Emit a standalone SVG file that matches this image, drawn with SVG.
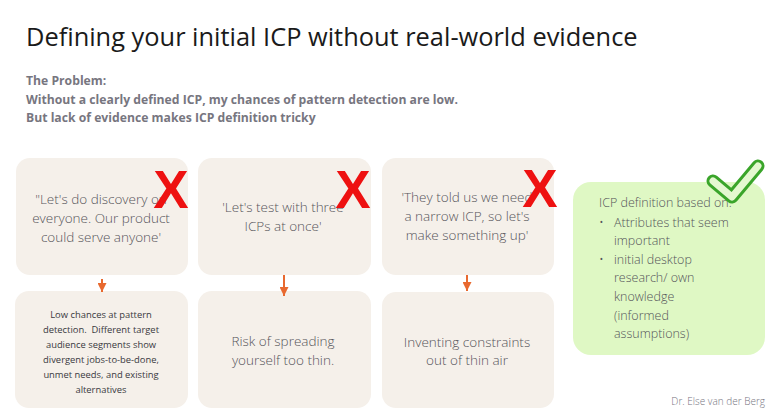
<svg xmlns="http://www.w3.org/2000/svg" width="780" height="418" viewBox="0 0 780 418">
<defs>
<marker id="ah" viewBox="0 0 10 10" refX="10" refY="5" markerWidth="9" markerHeight="9" markerUnits="userSpaceOnUse" orient="auto">
<path d="M0,0 L10,5 L0,10 Z" fill="#e8692f"/>
</marker>
<style>
.box{fill:#f5f0ea}
.green{fill:#dff8c4}
.t{font-family:"Open Sans","Liberation Sans",sans-serif;fill:#55555a;font-weight:300;text-anchor:middle}
.q{font-size:13.5px}
.s{font-size:9.4px;font-weight:400;fill:#3a3a3f;white-space:pre}
.x{font-family:"Liberation Sans",Arial,sans-serif;font-weight:700;font-size:53px;fill:#ee1111;text-anchor:middle}
.con{stroke:#e8692f;stroke-width:2;fill:none}
</style>
</defs>
<rect width="780" height="418" fill="#ffffff"/>
<text x="26" y="46" font-family="'Open Sans','Liberation Sans',sans-serif" font-size="25.4" fill="#1a1a1a">Defining your initial ICP without real-world evidence</text>
<g font-family="'Open Sans','Liberation Sans',sans-serif" font-size="12.2" font-weight="700" fill="#77767f">
<text x="26" y="85">The Problem:</text>
<text x="26" y="104">Without a clearly defined ICP, my chances of pattern detection are low.</text>
<text x="26" y="122">But lack of evidence makes ICP definition tricky</text>
</g>
<g id="n1">
<rect class="box" x="16" y="158" width="172" height="117" rx="14"/>
<text class="t q" x="101" y="204">"Let's do discovery on</text>
<text class="t q" x="101" y="223">everyone. Our product</text>
<text class="t q" x="101" y="242">could serve anyone'</text>
<text class="x" x="171" y="208">X</text>
</g>
<g id="n2">
<rect class="box" x="198" y="158" width="173" height="117" rx="14"/>
<text class="t q" x="283" y="212">'Let's test with three</text>
<text class="t q" x="283" y="231">ICPs at once'</text>
<text class="x" x="353" y="208">X</text>
</g>
<g id="n3">
<rect class="box" x="382" y="158" width="172" height="117" rx="14"/>
<text class="t q" x="467" y="202">'They told us we need</text>
<text class="t q" x="467" y="221">a narrow ICP, so let's</text>
<text class="t q" x="467" y="240">make something up'</text>
<text class="x" x="540" y="207">X</text>
</g>
<g id="n4">
<rect class="box" x="15" y="291" width="173" height="117" rx="14"/>
<text class="t s" x="101" y="318">Low chances at pattern</text>
<text class="t s" x="101" y="333">detection.  Different target</text>
<text class="t s" x="101" y="348">audience segments show</text>
<text class="t s" x="101" y="363">divergent jobs-to-be-done,</text>
<text class="t s" x="101" y="378">unmet needs, and existing</text>
<text class="t s" x="101" y="393">alternatives</text>
</g>
<g id="n5">
<rect class="box" x="198" y="291" width="173" height="117" rx="14"/>
<text class="t q" x="283" y="346">Risk of spreading</text>
<text class="t q" x="283" y="365">yourself too thin.</text>
</g>
<g id="n6">
<rect class="box" x="382" y="292" width="172" height="116" rx="14"/>
<text class="t q" x="467" y="347">Inventing constraints</text>
<text class="t q" x="467" y="365">out of thin air</text>
</g>
<g id="n7">
<rect class="green" x="573" y="182" width="192" height="173" rx="18"/>
<g font-family="'Open Sans','Liberation Sans',sans-serif" font-size="12.5" font-weight="300" fill="#55555a">
<text x="599" y="207">ICP definition based on:</text>
<text x="599" y="227">•</text>
<text x="614" y="227">Attributes that seem</text>
<text x="614" y="245">important</text>
<text x="599" y="264">•</text>
<text x="614" y="264">initial desktop</text>
<text x="614" y="282">research/ own</text>
<text x="614" y="301">knowledge</text>
<text x="614" y="320">(informed</text>
<text x="614" y="338">assumptions)</text>
</g>
<polyline points="713,181 732,197 758,166" fill="none" stroke="#3aa52a" stroke-width="13" stroke-linejoin="round" stroke-linecap="round"/>
<polyline points="713,181 732,197 758,166" fill="none" stroke="#e4f8d0" stroke-width="7" stroke-linejoin="round" stroke-linecap="round"/>
</g>
<g id="connectors">
<line class="con" x1="102" y1="279" x2="102" y2="292" marker-end="url(#ah)"/>
<line class="con" x1="284" y1="275" x2="284" y2="296" marker-end="url(#ah)"/>
<line class="con" x1="467" y1="275" x2="467" y2="291" marker-end="url(#ah)"/>
</g>
<text x="765" y="405" text-anchor="end" font-family="'Open Sans','Liberation Sans',sans-serif" font-size="10" font-weight="300" fill="#77767f">Dr. Else van der Berg</text>
</svg>
